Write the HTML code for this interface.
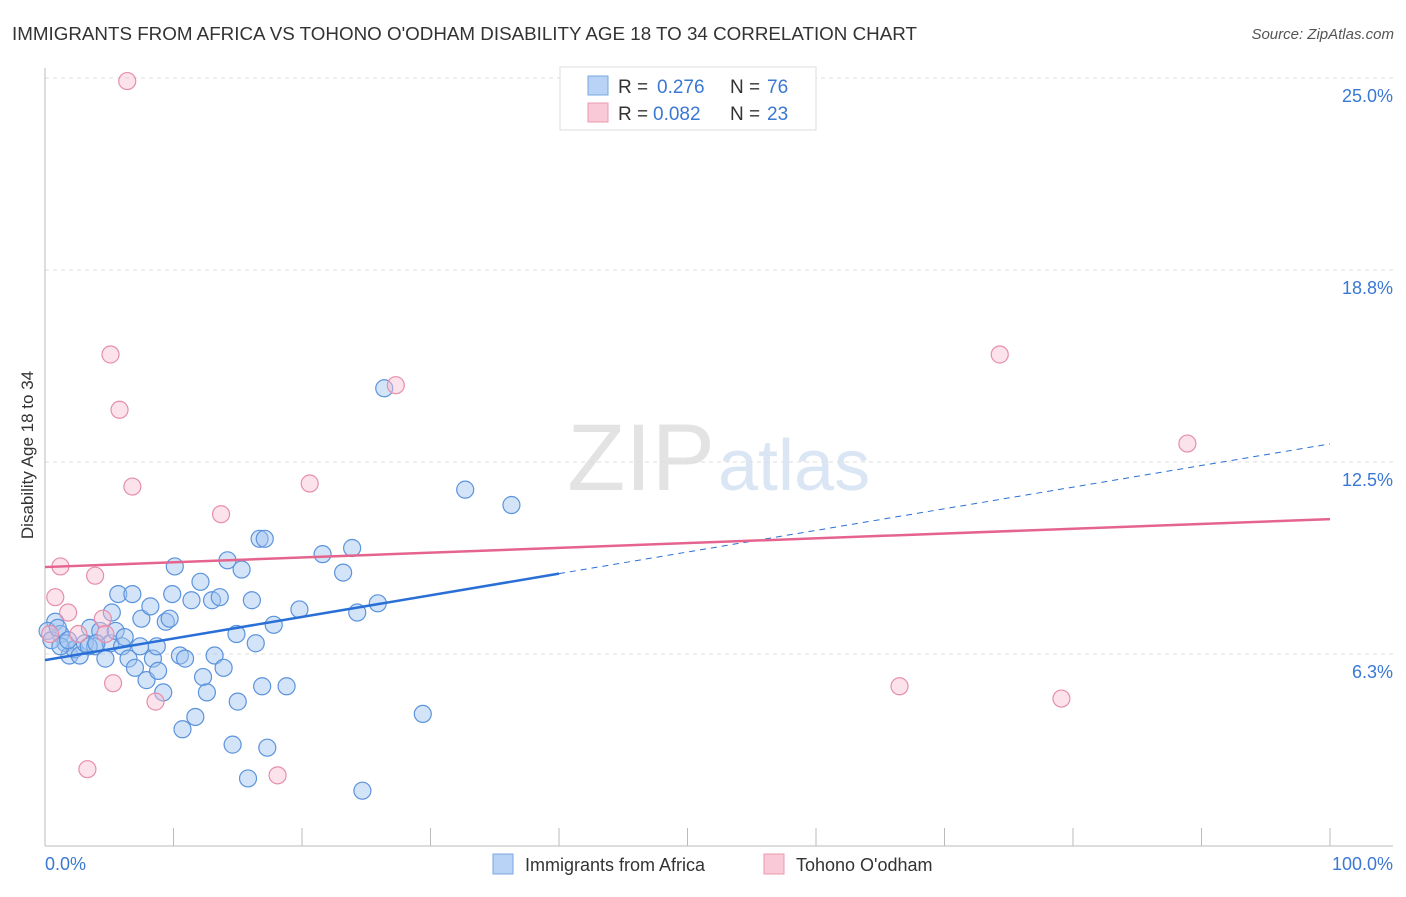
<!DOCTYPE html>
<html><head><meta charset="utf-8"><style>
body{margin:0;background:#fff;font-family:"Liberation Sans",sans-serif}
svg text{font-family:"Liberation Sans",sans-serif}
</style></head><body>
<svg id="c" width="1406" height="892">
<text x="12" y="40" font-size="18.8" fill="#333">IMMIGRANTS FROM AFRICA VS TOHONO O'ODHAM DISABILITY AGE 18 TO 34 CORRELATION CHART</text>
<text x="1394" y="39" font-size="15" fill="#555" font-style="italic" text-anchor="end">Source: ZipAtlas.com</text>
<text x="715" y="490" font-size="95" fill="#e3e3e3" text-anchor="end" font-family="Liberation Serif">ZIP</text>
<text x="718" y="490" font-size="72" fill="#dbe6f5">atlas</text>
<text transform="translate(33,455) rotate(-90)" font-size="17" fill="#333" text-anchor="middle">Disability Age 18 to 34</text>
<g id="grid"></g><g id="marks"></g>
<g>
<rect x="560" y="67" width="256" height="63" fill="#fff" stroke="#ddd"/>
<rect x="588" y="76" width="20" height="19" fill="#b8d3f5" stroke="#7aa7e0"/>
<rect x="588" y="103" width="20" height="19" fill="#f9c9d7" stroke="#e99ab2"/>
<text x="618" y="93" font-size="19" fill="#333">R =</text>
<text x="657" y="93" font-size="19" fill="#3a78d4">0.276</text>
<text x="730" y="93" font-size="19" fill="#333">N =</text>
<text x="767" y="93" font-size="19" fill="#3a78d4">76</text>
<text x="618" y="120" font-size="19" fill="#333">R =</text>
<text x="653" y="120" font-size="19" fill="#3a78d4">0.082</text>
<text x="730" y="120" font-size="19" fill="#333">N =</text>
<text x="767" y="120" font-size="19" fill="#3a78d4">23</text>
</g>
<g>
<rect x="493" y="854" width="20" height="20" fill="#b8d3f5" stroke="#7aa7e0"/>
<text x="525" y="871" font-size="18" fill="#333">Immigrants from Africa</text>
<rect x="764" y="854" width="20" height="20" fill="#f9c9d7" stroke="#e99ab2"/>
<text x="796" y="871" font-size="18" fill="#333">Tohono O'odham</text>
</g>
</svg>
<script>
const yTicks=[6.25,12.5,18.75,25];
const yTickLabels=["6.3%","12.5%","18.8%","25.0%"];
const xTickLabels=["0.0%","100.0%"];
const blueX=[0.8,1.2,1.6,1.9,2.3,2.7,3.1,3.5,3.9,4.3,4.7,5.1,5.2,5.5,5.7,6.0,6.2,6.5,6.8,7.0,7.4,7.5,7.9,8.2,8.4,8.7,8.8,9.2,9.4,9.7,10.1,9.9,10.5,10.9,11.4,11.7,10.7,12.1,12.3,12.6,13.0,13.2,13.6,13.9,14.2,14.9,15.0,15.3,14.6,16.1,15.8,16.4,16.9,17.3,16.7,17.1,17.8,18.8,19.8,21.6,23.2,23.9,24.3,24.7,25.9,26.4,29.4,32.7,36.3,0.2,0.5,1.0,3.4,4.0,1.2,1.8];
const blueY=[7.3,6.9,6.6,6.2,6.4,6.2,6.6,7.1,6.5,7.0,6.1,6.6,7.6,7.0,8.2,6.5,6.8,6.1,8.2,5.8,6.5,7.4,5.4,7.8,6.1,6.5,5.7,5.0,7.3,7.4,9.1,8.2,6.2,6.1,8.0,4.2,3.8,8.6,5.5,5.0,8.0,6.2,8.1,5.8,9.3,6.9,4.7,9.0,3.3,8.0,2.2,6.6,5.2,3.2,10.0,10.0,7.2,5.2,7.7,9.5,8.9,9.7,7.6,1.8,7.9,14.9,4.3,11.6,11.1,7.0,6.7,7.1,6.5,6.6,6.5,6.7];
const pinkX=[6.4,5.1,5.8,6.8,13.7,20.6,27.3,1.2,3.9,1.8,0.8,4.5,4.7,2.6,5.3,8.6,3.3,18.1,66.5,74.3,79.1,88.9,0.4];
const pinkY=[24.9,16.0,14.2,11.7,10.8,11.8,15.0,9.1,8.8,7.6,8.1,7.4,6.9,6.9,5.3,4.7,2.5,2.3,5.2,16.0,4.8,13.1,6.9];
const blueTrend=[6.05,13.09];
const pinkTrend=[9.08,10.64];
const blueSolidEnd=40;

const X0=45,X1=1330,Y0=846,PY=30.72;
const sx=v=>X0+(X1-X0)*v/100, sy=v=>Y0-v*PY;
const NS="http://www.w3.org/2000/svg";
const grid=document.getElementById('grid'), marks=document.getElementById('marks');
function mk(tag,attrs,parent){const e=document.createElementNS(NS,tag);for(const k in attrs)e.setAttribute(k,attrs[k]);parent.appendChild(e);return e;}
yTicks.forEach((t,i)=>{
  const l=mk('line',{x1:X0,x2:1393,y1:sy(t),y2:sy(t),stroke:'#ddd','stroke-dasharray':'4,4'},grid);
  
  
  const tx=mk('text',{x:1393,y:sy(t)+24,'font-size':18,fill:'#3a78d4','text-anchor':'end'},grid);
  tx.textContent=yTickLabels[i];
  
  
});
const ya=mk('line',{x1:X0,x2:X0,y1:68,y2:846,stroke:'#bbb'},grid);


const xa=mk('line',{x1:X0,x2:1393,y1:846,y2:846,stroke:'#bbb'},grid);


for(let i=0;i<=10;i++){
  const tk=mk('line',{x1:sx(i*10),x2:sx(i*10),y1:828,y2:846,stroke:'#bbb'},grid);
  
  
}
[[0,'start',X0],[1,'end',1393]].forEach(([i,a,x])=>{
  const t=mk('text',{x:x,y:870,'font-size':18,fill:'#3a78d4','text-anchor':a},grid);
  t.textContent=xTickLabels[i];
  
  
});
blueX.forEach((x,i)=>{
  const c=mk('circle',{cx:sx(x),cy:sy(blueY[i]),r:8.5,fill:'rgba(160,196,240,0.45)',stroke:'#5b93dc','stroke-width':1.2},marks);
  
  
});
pinkX.forEach((x,i)=>{
  const c=mk('circle',{cx:sx(x),cy:sy(pinkY[i]),r:8.5,fill:'rgba(248,190,208,0.45)',stroke:'#e58fab','stroke-width':1.2},marks);
  
  
});
const bAt=x=>blueTrend[0]+(blueTrend[1]-blueTrend[0])*x/100;
const bl=mk('line',{x1:sx(0),y1:sy(bAt(0)),x2:sx(blueSolidEnd),y2:sy(bAt(blueSolidEnd)),stroke:'#2a6fd6','stroke-width':2.5},marks);


const bd=mk('line',{x1:sx(blueSolidEnd),y1:sy(bAt(blueSolidEnd)),x2:sx(100),y2:sy(bAt(100)),stroke:'#2a6fd6','stroke-width':1,'stroke-dasharray':'6,5'},marks);


const pl=mk('line',{x1:sx(0),y1:sy(pinkTrend[0]),x2:sx(100),y2:sy(pinkTrend[1]),stroke:'#e5648e','stroke-width':2.5},marks);


</script>
</body></html>
